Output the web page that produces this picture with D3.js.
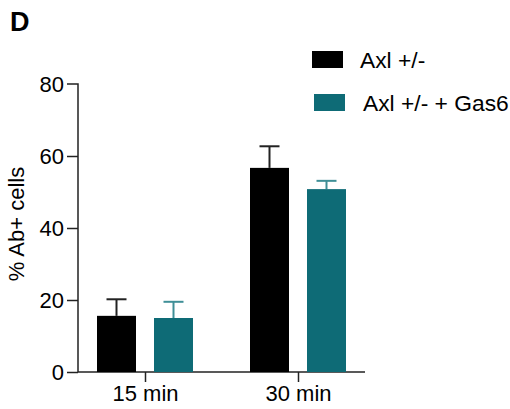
<!DOCTYPE html>
<html>
<head>
<meta charset="utf-8">
<script src="https://cdn.jsdelivr.net/npm/d3@7"></script>
<style>
  body { margin: 0; background: #fff; }
  text { font-family: "Liberation Sans", Arial, sans-serif; }
</style>
</head>
<body>
<div id="chart"></div>
<script>
const categories = ["15 min", "30 min"];
const seriesNames = ["Axl +/-", "Axl +/- + Gas6"];
const meanBlack = [15.6, 56.7];
const meanTeal = [15.0, 50.8];
const errBlack = [4.6, 6.0];
const errTeal = [4.5, 2.3];
const yTicks = [0, 20, 40, 60, 80];

const colors = ["#000000", "#0e6b76"];
const errColors = ["#222222", "#3f8f97"];

const width = 510, height = 409;
const margin = {top: 84, right: 145, bottom: 37, left: 78};
const fontSize = 22;

const svg = d3.select("#chart").append("svg")
    .attr("width", width)
    .attr("height", height);

const group = svg.append("g")
    .attr("transform", `translate(${margin.left},${margin.top})`);

const innerW = width - margin.left - margin.right;
const innerH = height - margin.top - margin.bottom;

const yScale = d3.scaleLinear().domain([0, 80]).range([innerH, 0]);
const xScale = d3.scalePoint().domain(categories).range([67, 220]);

const series = [
    {name: seriesNames[0], mean: meanBlack, err: errBlack},
    {name: seriesNames[1], mean: meanTeal, err: errTeal}
];

// y axis
const yAxis = d3.axisLeft(yScale).tickValues(yTicks).tickSize(11).tickPadding(3);
const yG = group.append("g").call(yAxis);
yG.select(".domain").attr("d", `M-11,0H0V${innerH}`);
yG.selectAll("path, line").attr("stroke", "#222").attr("stroke-width", 1.5);
yG.selectAll("text").attr("font-size", fontSize).attr("fill", "#000")
    .style("font-family", "Liberation Sans, Arial, sans-serif");
yG.select(".tick:last-of-type line").remove();

// x axis
const xAxis = d3.axisBottom(xScale).tickSize(10).tickPadding(3);
const xG = group.append("g").attr("transform", `translate(0,${innerH})`).call(xAxis);
xG.select(".domain").attr("d", `M0,0H${innerW}`);
xG.selectAll("path, line").attr("stroke", "#222").attr("stroke-width", 1.5);
xG.selectAll("text").attr("font-size", fontSize).attr("fill", "#000")
    .style("font-family", "Liberation Sans, Arial, sans-serif");

const barW = 39;
const offsets = [-28.5, 28.5];

series.forEach((s, i) => {
    const g = group.append("g");
    // error bars (upper only)
    g.selectAll(".err").data(categories).enter().append("line")
        .attr("x1", (d) => xScale(d) + offsets[i])
        .attr("x2", (d) => xScale(d) + offsets[i])
        .attr("y1", (d, j) => yScale(s.mean[j]))
        .attr("y2", (d, j) => yScale(s.mean[j] + s.err[j]))
        .attr("stroke", errColors[i]).attr("stroke-width", 2);
    g.selectAll(".cap").data(categories).enter().append("line")
        .attr("x1", (d) => xScale(d) + offsets[i] - 10)
        .attr("x2", (d) => xScale(d) + offsets[i] + 10)
        .attr("y1", (d, j) => yScale(s.mean[j] + s.err[j]))
        .attr("y2", (d, j) => yScale(s.mean[j] + s.err[j]))
        .attr("stroke", errColors[i]).attr("stroke-width", 2);
    g.selectAll("rect").data(categories).enter().append("rect")
        .attr("x", (d) => xScale(d) + offsets[i] - barW / 2)
        .attr("y", (d, j) => yScale(s.mean[j]))
        .attr("width", barW)
        .attr("height", (d, j) => innerH - yScale(s.mean[j]))
        .attr("fill", colors[i]);
});

// y label
svg.append("text")
    .attr("transform", `translate(24,${margin.top + innerH / 2 - 4}) rotate(-90)`)
    .attr("text-anchor", "middle")
    .attr("font-size", fontSize)
    .text("% Ab+ cells");

// panel letter
svg.append("text")
    .attr("x", 10).attr("y", 31)
    .attr("font-size", 27).attr("font-weight", "bold")
    .text("D");

// legend
const legend = svg.append("g");
series.forEach((s, i) => {
    legend.append("rect")
        .attr("x", 312 + i * 2).attr("y", 51 + i * 43)
        .attr("width", 31).attr("height", 17)
        .attr("fill", colors[i]);
    legend.append("text")
        .attr("x", 360 + i * 3).attr("y", 68 + i * 43)
        .attr("font-size", 22.8)
        .text(s.name);
});
</script>
</body>
</html>
